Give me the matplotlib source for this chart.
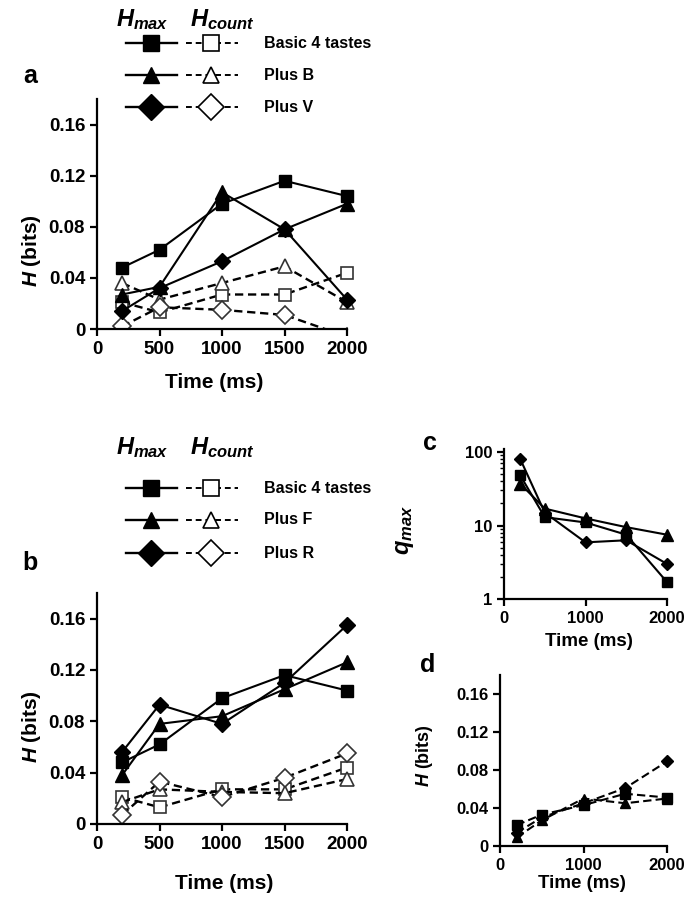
import numpy as np
import matplotlib
matplotlib.use('Agg')
import matplotlib.pyplot as plt
from matplotlib.lines import Line2D
from matplotlib.ticker import FixedLocator, FixedFormatter, LogLocator, NullFormatter

plt.rcParams['font.family'] = ['Liberation Sans', 'DejaVu Sans']
plt.rcParams['font.weight'] = 'bold'
plt.rcParams['mathtext.fontset'] = 'custom'
plt.rcParams['mathtext.it'] = 'Liberation Sans:italic:bold'
plt.rcParams['mathtext.rm'] = 'Liberation Sans:bold'
plt.rcParams['mathtext.bf'] = 'Liberation Sans:bold'

# time points (ms)
t = [200, 500, 1000, 1500, 2000]

# panel a: H (bits)
a_hmax_basic = [0.048, 0.062, 0.098, 0.116, 0.104]
a_hmax_plusB = [0.027, 0.033, 0.107, 0.078, 0.098]
a_hmax_plusV = [0.014, 0.032, 0.053, 0.078, 0.023]
a_hcnt_basic = [0.021, 0.013, 0.027, 0.027, 0.044]
a_hcnt_plusB = [0.036, 0.023, 0.036, 0.049, 0.021]
a_hcnt_plusV = [0.002, 0.017, 0.015, 0.011, -0.006]

# panel b: H (bits)
b_hmax_basic = [0.048, 0.062, 0.098, 0.116, 0.104]
b_hmax_plusF = [0.038, 0.078, 0.084, 0.105, 0.126]
b_hmax_plusR = [0.056, 0.093, 0.078, 0.110, 0.155]
b_hcnt_basic = [0.021, 0.013, 0.027, 0.027, 0.044]
b_hcnt_plusF = [0.017, 0.027, 0.025, 0.024, 0.035]
b_hcnt_plusR = [0.007, 0.033, 0.021, 0.036, 0.055]

# panel c: q_max (log scale)
c_basic = [48, 13, 11, 7.5, 1.7]
c_plusF = [37, 17, 12.5, 9.5, 7.5]
c_plusR = [80, 15, 5.9, 6.3, 3.0]

# panel d: H (bits)
d_basic = [0.022, 0.033, 0.043, 0.055, 0.051]
d_plusF = [0.009, 0.027, 0.050, 0.045, 0.050]
d_plusR = [0.014, 0.030, 0.045, 0.061, 0.089]

h_ticks = [0, 0.04, 0.08, 0.12, 0.16]
h_ticklabels = ['0', '0.04', '0.08', '0.12', '0.16']

W, H = 688, 899
fig = plt.figure(figsize=(W / 100, H / 100), dpi=100)


def px_axes(x0, y0, x1, y1):
    return fig.add_axes([x0 / W, 1 - y1 / H, (x1 - x0) / W, (y1 - y0) / H])


def style(ax, fs):
    for s in ['top', 'right']:
        ax.spines[s].set_visible(False)
    for s in ['left', 'bottom']:
        ax.spines[s].set_linewidth(1.6)
    ax.tick_params(direction='out', length=5, width=1.6, labelsize=fs)
    ax.tick_params(which='minor', direction='out', length=3, width=1.0)
    for lb in ax.get_xticklabels() + ax.get_yticklabels():
        lb.set_fontweight('bold')


OPEN = '#333333'


def filled(ax, y, m, ms, ls='-', clip=False):
    ax.plot(t, y, ls, color='black', lw=1.5, marker=m, ms=ms,
            mfc='black', mec='black', clip_on=clip, zorder=3)


def hollow(ax, y, m, ms, clip=False):
    ax.plot(t, y, color='black', lw=1.7, dashes=(3.5, 2), marker=m, ms=ms,
            mfc='white', mec=OPEN, mew=1.2, clip_on=clip, zorder=2)


# ---------------- panel a ----------------
axa = px_axes(97, 99, 347, 329)
hollow(axa, a_hcnt_basic, 's', 9)
hollow(axa, a_hcnt_plusB, '^', 10)
hollow(axa, a_hcnt_plusV, 'D', 9, clip=True)
filled(axa, a_hmax_basic, 's', 9)
filled(axa, a_hmax_plusB, '^', 10)
filled(axa, a_hmax_plusV, 'D', 8)
axa.set_xlim(0, 2000)
axa.set_ylim(0, 0.18)
axa.set_xticks([0, 500, 1000, 1500, 2000])
axa.set_yticks(h_ticks)
axa.set_yticklabels(h_ticklabels)
style(axa, 13.5)
axa.set_ylabel('$H$ (bits)', fontsize=15, fontweight='bold')
axa.yaxis.set_label_coords(-0.215, 0.34)
axa.set_xlabel('Time (ms)', fontsize=15, fontweight='bold')
axa.xaxis.set_label_coords(0.47, -0.19)

# ---------------- panel b ----------------
axb = px_axes(97, 593, 347, 824)
hollow(axb, b_hcnt_basic, 's', 9)
hollow(axb, b_hcnt_plusF, '^', 10)
hollow(axb, b_hcnt_plusR, 'D', 9)
filled(axb, b_hmax_basic, 's', 9)
filled(axb, b_hmax_plusF, '^', 10)
filled(axb, b_hmax_plusR, 'D', 8)
axb.set_xlim(0, 2000)
axb.set_ylim(0, 0.18)
axb.set_xticks([0, 500, 1000, 1500, 2000])
axb.set_yticks(h_ticks)
axb.set_yticklabels(h_ticklabels)
style(axb, 13.5)
axb.set_ylabel('$H$ (bits)', fontsize=15, fontweight='bold')
axb.yaxis.set_label_coords(-0.215, 0.42)
axb.set_xlabel('Time (ms)', fontsize=15, fontweight='bold')
axb.xaxis.set_label_coords(0.51, -0.215)

# ---------------- panel c ----------------
axc = px_axes(504, 449, 667, 599)
axc.set_yscale('log')
filled(axc, c_basic, 's', 7.5)
filled(axc, c_plusF, '^', 8)
filled(axc, c_plusR, 'D', 6.5)
axc.set_xlim(0, 2000)
axc.set_ylim(1, 110)
axc.set_xticks([0, 1000, 2000])
axc.yaxis.set_major_locator(FixedLocator([1, 10, 100]))
axc.yaxis.set_major_formatter(FixedFormatter(['1', '10', '100']))
axc.yaxis.set_minor_locator(LogLocator(base=10, subs=np.arange(2, 10)))
axc.yaxis.set_minor_formatter(NullFormatter())
style(axc, 12)
axc.set_ylabel('$q_{max}$', fontsize=17)
axc.yaxis.set_label_coords(-0.54, 0.46)
axc.set_xlabel('Time (ms)', fontsize=13.5, fontweight='bold')
axc.xaxis.set_label_coords(0.52, -0.23)

# ---------------- panel d ----------------
axd = px_axes(500, 675, 667, 846)
filled(axd, d_basic, 's', 7.5, ls='--')
filled(axd, d_plusF, '^', 7.5, ls='--')
filled(axd, d_plusR, 'D', 6, ls='--')
for ln in axd.get_lines():
    ln.set_dashes((4, 2))
axd.set_xlim(0, 2000)
axd.set_ylim(0, 0.18)
axd.set_xticks([0, 1000, 2000])
axd.set_yticks(h_ticks)
axd.set_yticklabels(h_ticklabels)
style(axd, 12)
axd.set_ylabel('$H$ (bits)', fontsize=13, fontweight='bold')
axd.yaxis.set_label_coords(-0.39, 0.53)
axd.set_xlabel('Time (ms)', fontsize=13.5, fontweight='bold')
axd.xaxis.set_label_coords(0.49, -0.17)

# ---------------- panel letters ----------------
for lab, x, y in [('a', 30, 76), ('b', 30, 563), ('c', 430, 443), ('d', 428, 665)]:
    fig.text(x / W, 1 - y / H, lab, fontsize=18, fontweight='bold',
             ha='center', va='center')


# ---------------- legends ----------------
def key(header_y, rows, names):
    fig.text(142 / W, 1 - header_y / H, '$H_{max}$', fontsize=17,
             ha='center', va='center')
    fig.text(222 / W, 1 - header_y / H, '$H_{count}$', fontsize=17,
             ha='center', va='center')
    for y, m, ms, name in zip(rows, ['s', '^', 'D'], [11, 12, 13], names):
        yy = 1 - y / H
        fig.add_artist(Line2D([126 / W, 177 / W], [yy, yy], color='black', lw=1.7))
        fig.add_artist(Line2D([151 / W], [yy], marker=m, ms=ms, color='black',
                              mfc='black', mec='black', lw=0))
        fig.add_artist(Line2D([186 / W, 238 / W], [yy, yy], color='black', lw=1.4,
                              dashes=(3, 2)))
        fig.add_artist(Line2D([211 / W], [yy], marker=m, ms=ms, mfc='white',
                              mec='black', mew=1.2, lw=0))
        fig.text(264 / W, yy, name, fontsize=11.5, fontweight='bold',
                 ha='left', va='center')


key(20, [43, 75, 107], ['Basic 4 tastes', 'Plus B', 'Plus V'])
key(448, [488, 520, 553], ['Basic 4 tastes', 'Plus F', 'Plus R'])

fig.savefig('out.png', dpi=100)
